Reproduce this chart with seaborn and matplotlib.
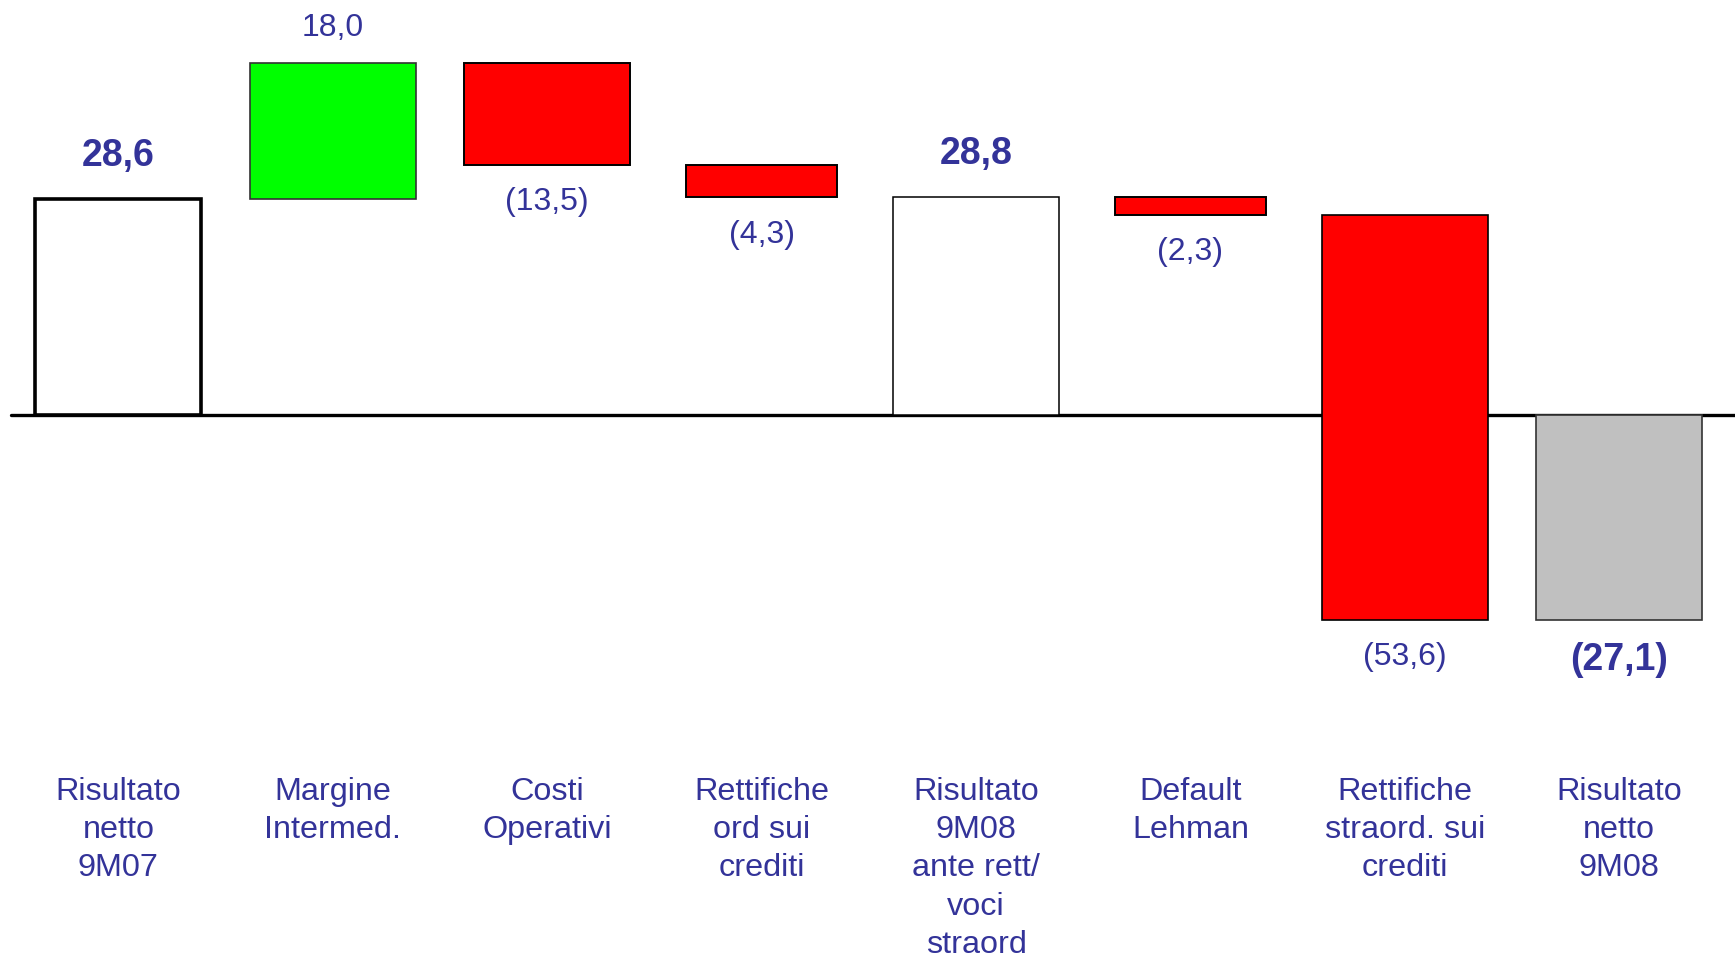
import matplotlib
matplotlib.use("Agg")
import matplotlib.pyplot as plt
import seaborn as sns
import numpy as np
import pandas as pd

# ---- data ----
categories = [
    "Risultato\nnetto\n9M07",
    "Margine\nIntermed.",
    "Costi\nOperativi",
    "Rettifiche\nord sui\ncrediti",
    "Risultato\n9M08\nante rett/\nvoci\nstraord",
    "Default\nLehman",
    "Rettifiche\nstraord. sui\ncrediti",
    "Risultato\nnetto\n9M08",
]
values = [28.6, 18.0, -13.5, -4.3, 28.8, -2.3, -53.6, -27.1]
kinds = ["total", "delta", "delta", "delta", "total", "delta", "delta", "total"]
value_labels = ["28,6", "18,0", "(13,5)", "(4,3)", "28,8", "(2,3)", "(53,6)", "(27,1)"]

# ---- style ----
bar_colors = ["#FFFFFF", "#00FF00", "#FF0000", "#FF0000", "#FFFFFF", "#FF0000", "#FF0000", "#C0C0C0"]
edge_colors = ["#000000", "#333333", "#000000", "#000000", "#000000", "#000000", "#000000", "#333333"]
edge_widths = [2.6, 1.2, 1.4, 1.4, 1.1, 1.4, 1.2, 1.2]
bar_widths = [0.775, 0.775, 0.775, 0.707, 0.775, 0.707, 0.775, 0.775]
text_color = "#333399"

# waterfall geometry from the values
bottoms, heights = [], []
running = 0.0
for v, k in zip(values, kinds):
    if k == "total":
        bottoms.append(0.0)
        heights.append(v)
        running = v
    else:
        if v >= 0:
            bottoms.append(running)
            heights.append(v)
        else:
            bottoms.append(running + v)
            heights.append(-v)
        running += v

df = pd.DataFrame({"cat": categories, "height": heights, "bottom": bottoms})

sns.set_theme(style="white")
plt.rcParams["font.family"] = ["Liberation Sans", "DejaVu Sans"]

fig = plt.figure(figsize=(17.35, 9.57), dpi=100)
ax = fig.add_axes([0, 0, 1, 1])

sns.barplot(data=df, x="cat", y="height", bottom=df["bottom"].values,
            order=categories, color="white", width=0.775, ax=ax,
            edgecolor="black", zorder=2)

for i, p in enumerate(ax.patches):
    p.set_facecolor(bar_colors[i])
    p.set_edgecolor(edge_colors[i])
    p.set_linewidth(edge_widths[i])
    w = bar_widths[i]
    p.set_x(i - w / 2)
    p.set_width(w)

ax.axhline(0, xmin=11 / 1735, xmax=1, color="black", lw=2.4, zorder=1)

# value labels
for i, (v, k, lab) in enumerate(zip(values, kinds, value_labels)):
    top = bottoms[i] + heights[i] if heights[i] >= 0 else bottoms[i]
    bot = bottoms[i] if heights[i] >= 0 else bottoms[i] + heights[i]
    bold = k == "total"
    off = 31 if bold else 25
    if v >= 0:
        y, dy = max(top, bot), off
    else:
        y, dy = min(top, bot), -(29 if bold else 27)
    ax.annotate(lab, xy=(i, y), xytext=(0, dy), textcoords="offset points",
                ha="center", va="center", color=text_color,
                fontsize=27 if bold else 23,
                fontweight="bold" if bold else "normal")

# category labels
for i, c in enumerate(categories):
    ax.text(i, -47.85, c, ha="center", va="top", color=text_color,
            fontsize=23.3, linespacing=1.36)

ax.set_xlim(-0.552, 7.54)
ax.set_ylim(-71.7, 54.9)
ax.axis("off")

fig.savefig("out.png", dpi=100, facecolor="white")
